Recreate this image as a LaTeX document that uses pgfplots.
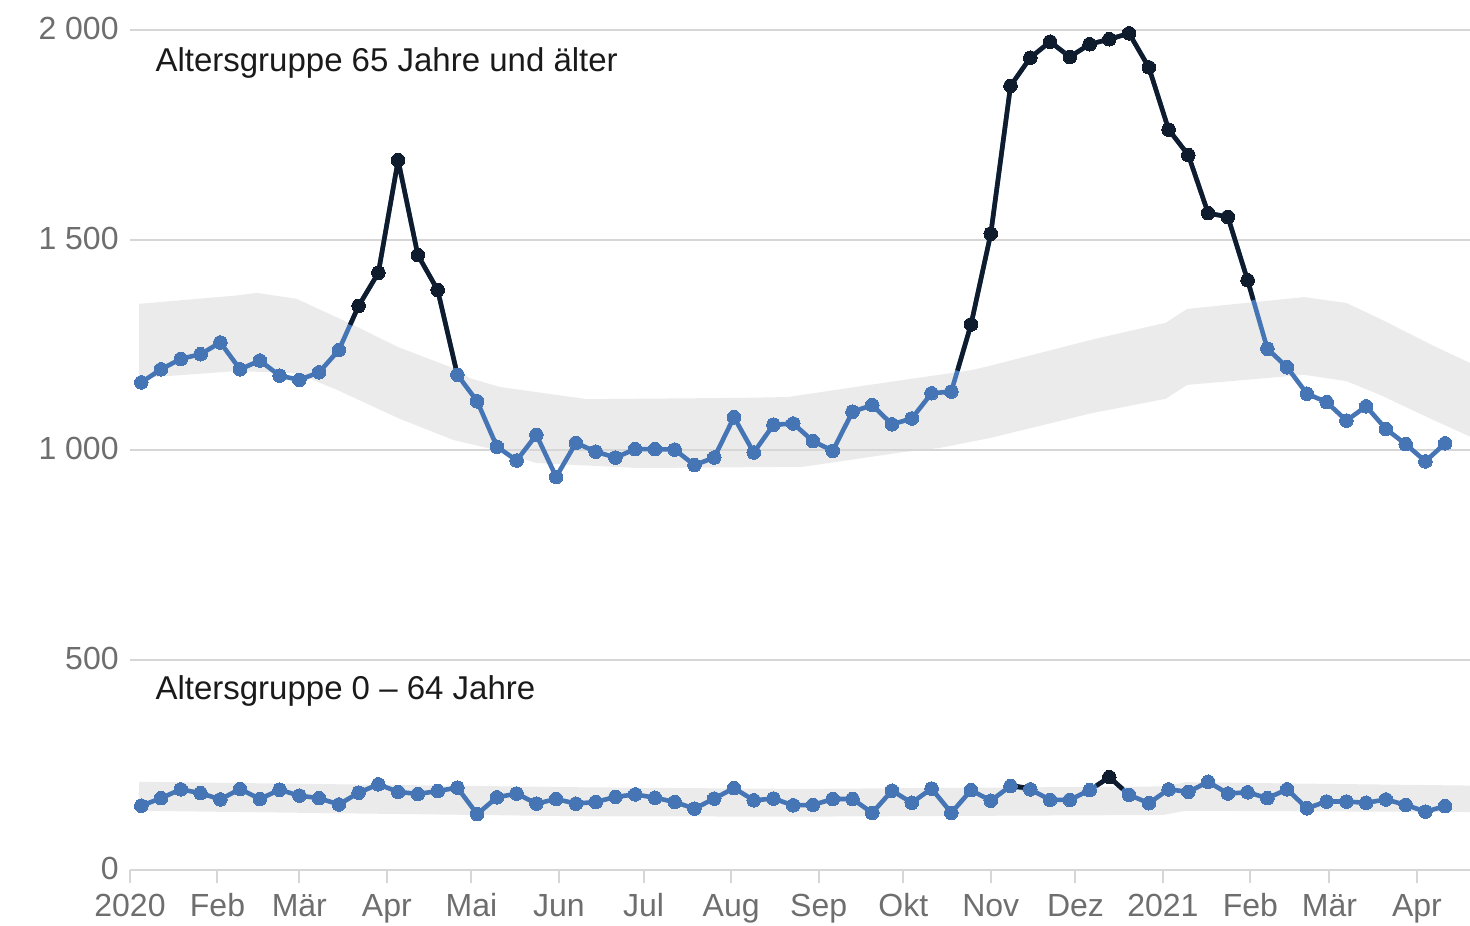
\documentclass[border=0pt]{standalone}
\usepackage{fontspec}
\setmainfont{Liberation Sans}
\newfontfamily\annot{Liberation Sans}
\usepackage{pgfplots}
\usepackage{pgfplotstable}
\pgfplotsset{compat=1.18}
\definecolor{blueL}{HTML}{4575B5}
\definecolor{darkL}{HTML}{0F1C2E}
\definecolor{bandC}{HTML}{EBEBEB}
\definecolor{gridC}{HTML}{D6D6D6}
\definecolor{tickC}{HTML}{6E6E6E}
\definecolor{annC}{HTML}{1A1A1A}

\pgfplotstableread{
d top bot
4 1161 153
11 1192 171
18 1217 192
25 1228 183
32 1256 168
39 1192 193
46 1213 169
53 1177 191
60 1167 177
67 1185 171
74 1238 156
81 1343 184
88 1422 204
95 1690 186
102 1464 181
109 1381 188
116 1179 196
123 1116 133
130 1008 173
137 975 182
144 1036 158
151 936 169
158 1017 158
165 996 162
172 982 174
179 1002 180
186 1002 172
193 1001 162
200 964 146
207 982 170
214 1078 195
221 994 166
228 1060 170
235 1063 154
242 1021 155
249 998 169
256 1091 169
263 1107 136
270 1061 189
277 1075 160
284 1135 194
291 1139 136
298 1299 190
305 1515 165
312 1867 200
319 1934 192
326 1972 167
333 1936 167
340 1966 190
347 1978 221
354 1992 179
361 1911 159
368 1763 192
375 1702 186
382 1564 210
389 1555 182
396 1404 185
403 1241 171
410 1197 192
417 1134 147
424 1114 163
431 1070 163
438 1104 160
445 1050 168
452 1014 155
459 973 139
466 1016 152
}\data

\begin{document}
\begin{tikzpicture}
\begin{axis}[
  at={(65pt,27.5pt)}, anchor=south west,
  scale only axis, width=670pt, height=420pt,
  xmin=0, xmax=474.8, ymin=0, ymax=2000,
  clip=false,
  set layers,
  axis line style={draw=none},
  ymajorgrids,
  grid style={gridC, line width=1pt},
  xtick={0,31,60,91,121,152,182,213,244,274,305,335,366,397,425,456},
  xticklabels={2020,Feb,Mär,Apr,Mai,Jun,Jul,Aug,Sep,Okt,Nov,Dez,2021,Feb,Mär,Apr},
  ytick={0,500,1000,1500,2000},
  yticklabels={0,500,1 000,1 500,2 000},
  xtick pos=left,
  ytick pos=left,
  tick align=outside,
  major tick length=6.5pt,
  xtick style={gridC, line width=1pt},
  ytick style={draw=none},
  ticklabel style={font=\fontsize{16}{18}\selectfont, text=tickC},
  typeset ticklabels with strut,
  xticklabel style={anchor=north, inner sep=0pt, yshift=-4pt},
  yticklabel style={anchor=east, inner sep=0pt, yshift=-1.2pt, xshift=1pt},
]
% bands
\addplot[fill=bandC, draw=none, on layer=axis background] coordinates {
(3.2,1348) (38,1368) (45,1374) (59,1360) (79,1298) (95,1245) (114.5,1195) (120.5,1171) (131,1150) (162,1121) (215,1124) (233,1126) (262,1155) (298,1190) (305,1201) (341,1263) (367,1303) (374.6,1336) (416,1364) (431,1350) (443,1312) (461,1251) (474.8,1207)
(474.8,1032) (461,1074) (443,1131) (431,1164) (416,1179) (374.6,1155) (367,1122) (341,1088) (305,1029) (287,1005) (274,995) (238.5,960) (180,957) (144,969) (126.5,1005) (114.5,1024) (95,1076) (73.4,1143) (59,1183) (38,1188) (3.2,1171)
};
\addplot[fill=bandC, draw=none, on layer=axis background] coordinates {
(3.2,210) (159,197) (237,193) (366,199) (374,209) (474.8,201)
(474.8,138) (374,141) (366,131) (237,127) (159,128) (3.2,141)
};
% blue lines
\addplot[blueL, line width=2.3pt, line join=round, mark=none] table[x=d, y=top] {\data};
\addplot[blueL, line width=2.3pt, line join=round, mark=none] table[x=d, y=bot] {\data};
% dark segments
\addplot[darkL, line width=2.3pt, line join=round, mark=none] coordinates {
(78,1298) (81,1343) (88,1422) (95,1690) (102,1464) (109,1381) (115.65,1189)};
\addplot[darkL, line width=2.3pt, line join=round, mark=none] coordinates {
(293.2,1189) (298,1299) (305,1515) (312,1867) (319,1934) (326,1972) (333,1936) (340,1966) (347,1978) (354,1992) (361,1911) (368,1763) (375,1702) (382,1564) (389,1555) (396,1404) (398,1357)};
\addplot[darkL, line width=2.3pt, line join=round, mark=none] coordinates {
(342.45,200.9) (347,221) (351.7,192.8)};
\addplot[darkL, line width=2.3pt, mark=none] coordinates {(314,199.4) (317.5,195.7)};
% blue marks
\addplot[blueL, only marks, mark=*, mark size=3.4pt, mark options={draw=blueL, fill=blueL, line width=0pt}] table[x=d, y=top] {\data};
\addplot[blueL, only marks, mark=*, mark size=3.4pt, mark options={draw=blueL, fill=blueL, line width=0pt}] table[x=d, y=bot] {\data};
% dark marks
\addplot[darkL, only marks, mark=*, mark size=3.4pt, mark options={draw=darkL, fill=darkL, line width=0pt}] coordinates {
(81,1343) (88,1422) (95,1690) (102,1464) (109,1381)
(298,1299) (305,1515) (312,1867) (319,1934) (326,1972) (333,1936) (340,1966) (347,1978) (354,1992) (361,1911) (368,1763) (375,1702) (382,1564) (389,1555) (396,1404)
(347,221)};
% annotations
\node[anchor=base west, inner sep=0pt, font=\annot\fontsize{16.5}{19}\selectfont, text=annC] at (axis cs:8.9,1900) {Altersgruppe 65 Jahre und älter};
\node[anchor=base west, inner sep=0pt, font=\annot\fontsize{16.5}{19}\selectfont, text=annC] at (axis cs:8.9,405) {Altersgruppe 0 – 64 Jahre};
\end{axis}
\pgfresetboundingbox
\useasboundingbox (0,0) rectangle (735pt,462.5pt);
\end{tikzpicture}
\end{document}
